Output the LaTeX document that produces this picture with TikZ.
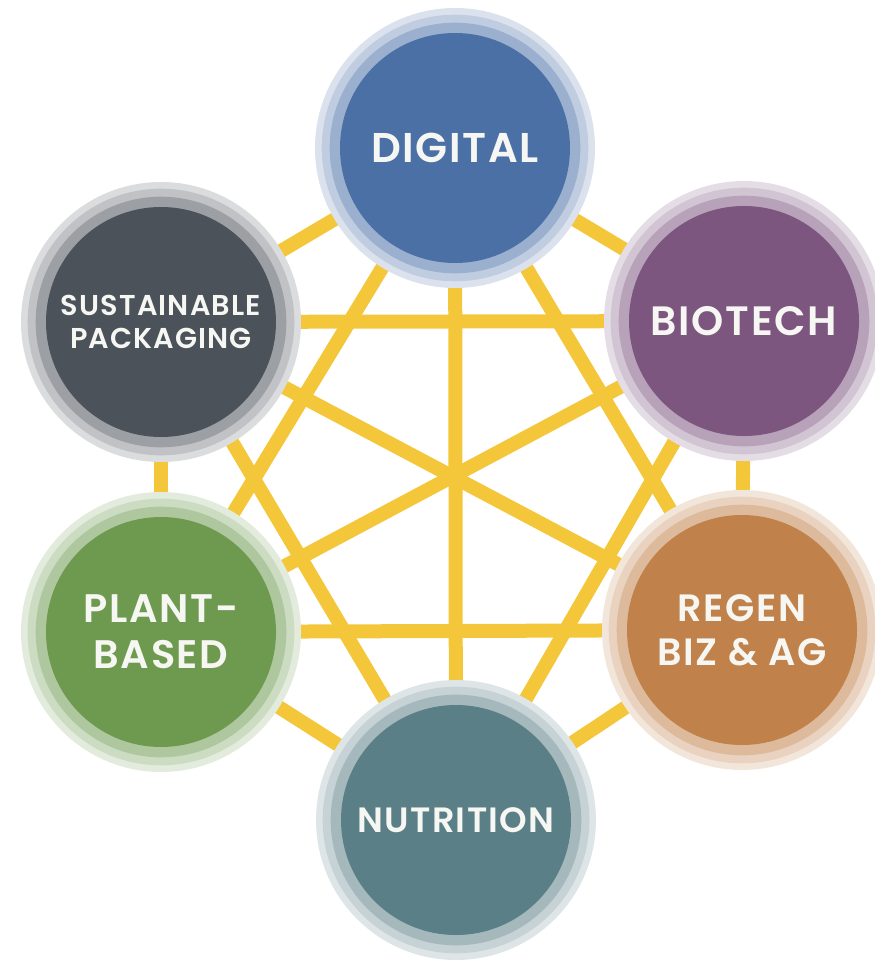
\documentclass[tikz,border=0pt]{standalone}
\usepackage{fontspec}
\setmainfont{Poppins}[BoldFont={Poppins SemiBold},LetterSpace=4]
\usepackage{tikz}
\usetikzlibrary{backgrounds}
\definecolor{link}{HTML}{F4C73A}
\definecolor{digital}{HTML}{4A70A6}
\definecolor{biotech}{HTML}{7D5680}
\definecolor{regen}{HTML}{C0824A}
\definecolor{nutrition}{HTML}{5B7F87}
\definecolor{plant}{HTML}{6E9A50}
\definecolor{packaging}{HTML}{4B5259}
\definecolor{label}{HTML}{F6F6F2}
\newcommand{\hubfont}[1]{\bfseries\fontsize{#1}{1.16\dimexpr#1pt\relax}\selectfont}
\tikzset{hub/.style={circle,fill=#1,minimum size=6.9cm,inner sep=0pt,
  align=center,text=label,
  preaction={draw=#1!20!white,line width=1.5cm},
  preaction={draw=#1!35!white,line width=1.1cm},
  preaction={draw=#1!55!white,line width=0.62cm}},
  linkline/.style={draw=link,line width=0.42cm}}

\begin{document}
\begin{tikzpicture}[x=0.03cm,y=-0.03cm]
\useasboundingbox (0,0) rectangle (874,961);
\node[hub=digital,font=\hubfont{35.5}] (dig) at (455,148) {DIGITAL};
\node[hub=biotech,font=\hubfont{35}] (bio) at (744,321) {BIOTECH};
\node[hub=regen,font=\hubfont{32.5}] (reg) at (742,630) {REGEN\\BIZ \& AG};
\node[hub=nutrition,font=\hubfont{30}] (nut) at (456,820) {NUTRITION};
\node[hub=plant,font=\hubfont{34}] (pla) at (161,632) {PLANT-\\BASED};
\node[hub=packaging,font=\hubfont{24.5}] (pak) at (161,322) {SUSTAINABLE\\PACKAGING};
% every hub linked to every other one
\begin{scope}[on background layer]
\foreach \a/\b in {dig/bio,dig/reg,dig/nut,dig/pla,dig/pak,
  bio/reg,bio/nut,bio/pla,bio/pak,reg/nut,reg/pla,reg/pak,
  nut/pla,nut/pak,pla/pak}
  \draw[linkline] (\a.center) -- (\b.center);
\end{scope}
\end{tikzpicture}
\end{document}
